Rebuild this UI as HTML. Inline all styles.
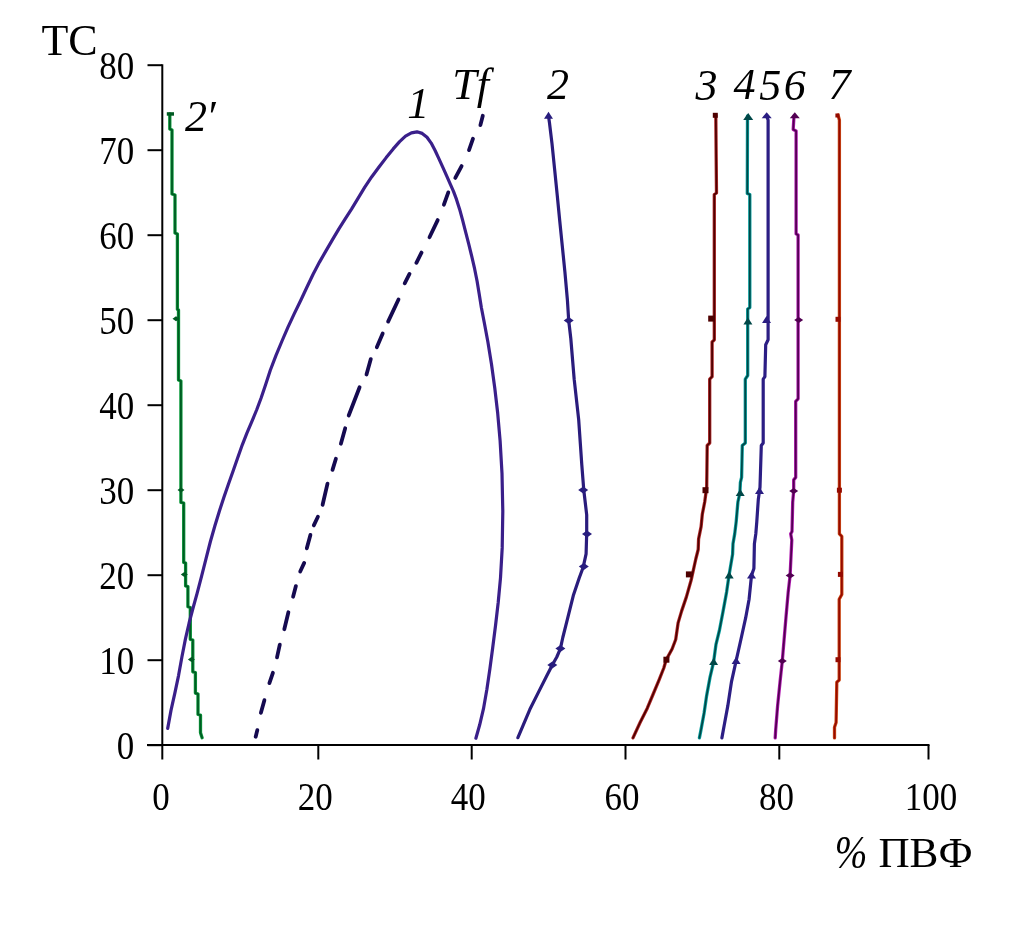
<!DOCTYPE html>
<html><head><meta charset="utf-8"><style>html,body{margin:0;padding:0;background:#fff;width:1013px;height:936px;overflow:hidden}svg{display:block}.f{font-family:"Liberation Serif",serif}</style></head>
<body><svg width="1013" height="936" viewBox="0 0 1013 936">
<rect width="1013" height="936" fill="#fff"/>
<g fill="none" stroke-linejoin="round" stroke-linecap="round">
<polyline points="169.8,114.0 169.8,129.0 172.0,130.0 172.0,194.0 175.0,195.0 175.0,233.0 177.4,234.0 177.4,309.4 178.5,310.0 178.5,380.0 180.9,381.0 180.9,502.4 183.7,503.0 183.7,562.4 185.6,563.0 185.6,585.9 187.9,586.6 187.9,606.7 190.3,607.5 190.3,639.3 192.8,640.0 192.8,671.8 195.4,672.5 195.4,693.1 198.0,694.0 198.0,714.5 200.5,715.0 200.5,732.8 202.1,737.8" stroke="#0c9a3c" stroke-width="3.3"/>
<polyline points="169.8,114.0 169.8,129.0 172.0,130.0 172.0,194.0 175.0,195.0 175.0,233.0 177.4,234.0 177.4,309.4 178.5,310.0 178.5,380.0 180.9,381.0 180.9,502.4 183.7,503.0 183.7,562.4 185.6,563.0 185.6,585.9 187.9,586.6 187.9,606.7 190.3,607.5 190.3,639.3 192.8,640.0 192.8,671.8 195.4,672.5 195.4,693.1 198.0,694.0 198.0,714.5 200.5,715.0 200.5,732.8 202.1,737.8" stroke="#005a22" stroke-width="1.7"/>
<polyline points="167.7,728.4 171.0,710.4 174.9,692.9 178.6,675.3 181.9,657.0 185.4,639.1 189.1,623.0 192.9,608.5 197.1,593.4 201.6,576.2 206.1,558.3 210.4,541.5 214.9,525.7 219.5,510.7 224.0,497.0 228.4,484.2 233.1,471.0 237.8,457.5 242.3,444.8 246.9,433.1 251.8,421.6 256.6,410.0 261.1,398.0 265.5,384.9 270.3,370.3 276.0,355.4 282.0,341.0 288.0,327.1 294.3,313.6 300.8,300.3 307.0,287.0 313.1,274.2 319.5,262.1 326.1,250.6 332.5,239.6 338.9,228.9 345.2,218.9 351.5,209.1 358.0,198.4 364.8,187.1 371.8,176.7 379.0,167.0 386.2,157.6 393.2,148.9 399.6,141.6 405.5,136.1 411.4,132.8 417.0,131.8 422.2,133.4 427.0,137.3 431.2,143.1 435.1,150.5 439.1,159.1 443.2,168.1 447.0,176.7 450.4,184.3 453.5,191.4 456.5,199.4 459.6,209.2 462.6,220.2 465.6,231.9 468.7,243.9 471.7,256.2 474.6,268.7 477.1,281.3 479.2,294.1 481.4,307.7 484.4,323.3 487.9,342.0 491.5,364.2 494.8,388.3 497.7,413.3 500.1,440.7 502.0,473.4 502.8,511.2 502.2,547.9 500.5,577.8 498.2,602.5 495.5,625.7 492.7,647.8 489.9,668.7 486.9,689.3 483.5,708.7 479.7,724.8 475.9,738.2" stroke="#3a1f8a" stroke-width="3.2"/>
<g stroke="#150a50" stroke-width="3.8" stroke-linecap="round">
<line x1="482.8" y1="115.8" x2="480.4" y2="125.1"/>
<line x1="473.0" y1="138.7" x2="469.0" y2="150.1"/>
<line x1="461.6" y1="166.1" x2="455.3" y2="177.9"/>
<line x1="448.3" y1="192.4" x2="443.9" y2="204.7"/>
<line x1="437.7" y1="220.1" x2="429.5" y2="237.2"/>
<line x1="421.5" y1="252.6" x2="416.4" y2="262.8"/>
<line x1="409.5" y1="273.9" x2="404.7" y2="283.3"/>
<line x1="398.5" y1="299.5" x2="388.1" y2="321.6"/>
<line x1="382.7" y1="333.5" x2="376.8" y2="347.2"/>
<line x1="370.8" y1="359.1" x2="366.5" y2="374.5"/>
<line x1="359.6" y1="387.3" x2="348.7" y2="415.5"/>
<line x1="345.2" y1="428.3" x2="340.9" y2="443.7"/>
<line x1="335.9" y1="458.8" x2="332.5" y2="469.9"/>
<line x1="327.5" y1="483.6" x2="322.6" y2="504.8"/>
<line x1="317.9" y1="516.8" x2="313.8" y2="525.4"/>
<line x1="310.4" y1="534.9" x2="306.8" y2="548.3"/>
<line x1="304.2" y1="562.9" x2="300.2" y2="571.5"/>
<line x1="295.9" y1="586.1" x2="293.1" y2="596.7"/>
<line x1="288.4" y1="612.3" x2="284.3" y2="629.2"/>
<line x1="279.8" y1="644.7" x2="277.0" y2="657.3"/>
<line x1="272.9" y1="672.8" x2="269.4" y2="683.1"/>
<line x1="264.4" y1="700.2" x2="260.9" y2="712.8"/>
<line x1="257.3" y1="730.1" x2="255.7" y2="736.7"/>
</g>
<polyline points="548.5,116.0 549.5,123.0 552.0,143.6 554.6,169.2 557.2,194.9 559.7,220.5 562.3,246.2 564.9,271.8 567.4,300.0 568.7,320.5 570.8,338.5 574.2,379.4 578.7,419.9 581.8,464.8 583.8,490.3 586.7,514.9 586.7,533.4 586.1,553.8 583.2,567.2 579.3,577.7 573.3,595.6 567.3,619.6 562.8,637.5 560.4,648.6 556.8,657.0 552.3,665.0 546.4,676.4 538.9,691.4 529.9,709.3 517.9,737.7" stroke="#2a1c7c" stroke-width="3.2"/>
<polyline points="715.8,115.0 716.5,193.0 714.3,194.5 714.3,339.8 712.1,342.0 712.1,376.7 709.7,379.1 709.7,443.0 707.2,445.5 706.7,487.2 704.7,502.0 702.3,514.3 701.1,526.6 698.6,538.8 698.2,549.5 695.8,559.0 691.1,580.3 686.4,596.9 681.6,611.1 678.1,622.9 675.7,639.5 672.1,649.0 666.2,659.7 663.8,668.0 659.1,679.8 653.2,694.0 647.3,708.2 640.1,722.5 633.0,737.9" stroke="#b02a2a" stroke-width="3.3"/>
<polyline points="715.8,115.0 716.5,193.0 714.3,194.5 714.3,339.8 712.1,342.0 712.1,376.7 709.7,379.1 709.7,443.0 707.2,445.5 706.7,487.2 704.7,502.0 702.3,514.3 701.1,526.6 698.6,538.8 698.2,549.5 695.8,559.0 691.1,580.3 686.4,596.9 681.6,611.1 678.1,622.9 675.7,639.5 672.1,649.0 666.2,659.7 663.8,668.0 659.1,679.8 653.2,694.0 647.3,708.2 640.1,722.5 633.0,737.9" stroke="#4e0000" stroke-width="1.7"/>
<polyline points="747.5,116.0 747.3,193.5 749.8,194.5 749.8,307.6 747.7,309.0 747.7,375.5 745.3,379.1 745.3,443.0 742.3,445.5 741.6,477.4 740.4,482.3 739.9,492.9 737.9,502.0 736.2,521.6 734.7,533.9 733.0,543.8 732.6,554.2 730.2,568.4 729.0,575.5 726.6,592.1 723.1,611.1 719.5,630.0 716.0,644.3 713.6,662.0 710.0,677.4 706.5,696.4 704.1,713.0 700.6,731.9 699.4,737.9" stroke="#0aa0a0" stroke-width="3.3"/>
<polyline points="747.5,116.0 747.3,193.5 749.8,194.5 749.8,307.6 747.7,309.0 747.7,375.5 745.3,379.1 745.3,443.0 742.3,445.5 741.6,477.4 740.4,482.3 739.9,492.9 737.9,502.0 736.2,521.6 734.7,533.9 733.0,543.8 732.6,554.2 730.2,568.4 729.0,575.5 726.6,592.1 723.1,611.1 719.5,630.0 716.0,644.3 713.6,662.0 710.0,677.4 706.5,696.4 704.1,713.0 700.6,731.9 699.4,737.9" stroke="#004848" stroke-width="1.7"/>
<polyline points="766.5,116.0 768.1,120.0 768.1,339.8 765.7,344.7 764.9,376.7 763.2,379.1 763.2,443.0 761.3,445.5 760.0,487.2 759.5,490.9 758.3,499.5 756.8,521.6 755.8,533.9 754.4,543.8 753.9,568.4 751.5,575.5 749.1,599.2 745.6,618.2 740.9,639.5 736.1,660.9 731.4,682.2 727.8,705.9 724.3,724.8 721.9,737.9" stroke="#2c1e84" stroke-width="3.2"/>
<polyline points="794.0,116.0 793.2,129.5 796.1,131.0 796.1,233.9 798.1,235.0 798.1,398.8 795.7,401.3 795.7,477.4 793.7,479.9 793.7,490.9 792.7,502.0 792.0,531.5 790.7,533.9 791.8,540.0 790.1,575.5 788.2,592.1 785.9,618.2 783.5,646.6 782.3,660.9 780.0,682.2 777.6,705.9 775.7,729.6 775.2,737.9" stroke="#b01cb0" stroke-width="3.3"/>
<polyline points="794.0,116.0 793.2,129.5 796.1,131.0 796.1,233.9 798.1,235.0 798.1,398.8 795.7,401.3 795.7,477.4 793.7,479.9 793.7,490.9 792.7,502.0 792.0,531.5 790.7,533.9 791.8,540.0 790.1,575.5 788.2,592.1 785.9,618.2 783.5,646.6 782.3,660.9 780.0,682.2 777.6,705.9 775.7,729.6 775.2,737.9" stroke="#520052" stroke-width="1.7"/>
<polyline points="838.0,115.0 839.4,120.0 839.4,533.9 841.8,536.4 841.8,594.5 839.2,599.2 839.2,680.0 836.8,682.2 836.1,722.5 834.5,727.2 834.5,737.9" stroke="#cc4a16" stroke-width="3.3"/>
<polyline points="838.0,115.0 839.4,120.0 839.4,533.9 841.8,536.4 841.8,594.5 839.2,599.2 839.2,680.0 836.8,682.2 836.1,722.5 834.5,727.2 834.5,737.9" stroke="#940a00" stroke-width="1.7"/>
</g>
<g fill="#005a22" stroke="none">
<rect x="166.8" y="112.2" width="7.2" height="3.5"/>
<path d="M172.5 318.8L176.0 316.3L179.5 318.8L176.0 321.3Z"/>
<path d="M177.5 490.1L181.0 487.6L184.5 490.1L181.0 492.6Z"/>
<path d="M180.8 574.5L184.3 572.0L187.8 574.5L184.3 577.0Z"/>
<path d="M187.9 659.4L191.4 656.9L194.9 659.4L191.4 661.9Z"/>
</g>
<g fill="#281d7e">
<path d="M544.0 118.7L553.0 118.7L548.5 111.7Z"/>
<path d="M563.7 320.5L568.7 317.0L573.7 320.5L568.7 324.0Z"/>
<path d="M578.2 490.1L583.2 486.6L588.2 490.1L583.2 493.6Z"/>
<path d="M582.0 533.9L587.0 530.4L592.0 533.9L587.0 537.4Z"/>
<path d="M578.8 566.4L583.8 562.9L588.8 566.4L583.8 569.9Z"/>
<path d="M555.4 648.6L560.4 645.1L565.4 648.6L560.4 652.1Z"/>
<path d="M547.3 665.0L552.3 661.5L557.3 665.0L552.3 668.5Z"/>
</g>
<g fill="#4e0000">
<rect x="712.8" y="112.8" width="5" height="5"/>
<rect x="708.2" y="315.6" width="6" height="6"/>
<rect x="702.5" y="487.2" width="6" height="6"/>
<rect x="685.9" y="571.4" width="6" height="6"/>
<rect x="663.4" y="656.7" width="6" height="6"/>
</g>
<g fill="#004848">
<path d="M743.2 120.0L753.2 120.0L748.2 113.0Z"/>
<path d="M743.4 324.6L752.4 324.6L747.9 317.6Z"/>
<path d="M735.7 496.0L744.7 496.0L740.2 489.0Z"/>
<path d="M724.7 578.6L733.7 578.6L729.2 571.6Z"/>
<path d="M709.1 665.1L718.1 665.1L713.6 658.1Z"/>
</g>
<g fill="#2a1d82">
<path d="M761.7 118.2L771.7 118.2L766.7 112.2Z"/>
<path d="M762.0 323.1L771.0 323.1L766.5 316.1Z"/>
<path d="M755.0 494.0L764.0 494.0L759.5 487.0Z"/>
<path d="M747.0 578.6L756.0 578.6L751.5 571.6Z"/>
<path d="M731.6 664.0L740.6 664.0L736.1 657.0Z"/>
</g>
<g fill="#520052">
<path d="M789.8 118.2L799.8 118.2L794.8 112.2Z"/>
<path d="M794.2 320.0L798.7 317.0L803.2 320.0L798.7 323.0Z"/>
<path d="M789.2 490.9L793.7 487.9L798.2 490.9L793.7 493.9Z"/>
<path d="M785.6 575.5L790.1 572.5L794.6 575.5L790.1 578.5Z"/>
<path d="M777.8 660.9L782.3 657.9L786.8 660.9L782.3 663.9Z"/>
</g>
<g fill="#940a00">
<rect x="835.4" y="113.5" width="4" height="4"/>
<rect x="835.5" y="316.8" width="5" height="5"/>
<rect x="836.9" y="487.7" width="5" height="5"/>
<rect x="837.9" y="571.9" width="5" height="5"/>
<rect x="835.5" y="657.2" width="5" height="5"/>
</g>
<g stroke="#000" stroke-width="2" fill="none" stroke-linecap="butt">
<path d="M162.3 64.2V746"/>
<path d="M147 745H929.5"/>
<path d="M147.5 745.2H162"/>
<path d="M147.5 660.2H162"/>
<path d="M147.5 575.2H162"/>
<path d="M147.5 490.2H162"/>
<path d="M147.5 405.2H162"/>
<path d="M147.5 320.2H162"/>
<path d="M147.5 235.2H162"/>
<path d="M147.5 150.2H162"/>
<path d="M147.5 65.2H162"/>
<path d="M162.3 745V759.5"/>
<path d="M318.3 745V759.5"/>
<path d="M471.7 745V759.5"/>
<path d="M625.5 745V759.5"/>
<path d="M779.3 745V759.5"/>
<path d="M928.5 745V759.5"/>
</g>
<g class="f" font-size="41" fill="#000">
<text x="116.7" y="758.8" textLength="17.5" lengthAdjust="spacingAndGlyphs">0</text>
<text x="99.2" y="673.8" textLength="35.0" lengthAdjust="spacingAndGlyphs">10</text>
<text x="99.2" y="588.8" textLength="35.0" lengthAdjust="spacingAndGlyphs">20</text>
<text x="99.2" y="503.8" textLength="35.0" lengthAdjust="spacingAndGlyphs">30</text>
<text x="99.2" y="418.8" textLength="35.0" lengthAdjust="spacingAndGlyphs">40</text>
<text x="99.2" y="333.8" textLength="35.0" lengthAdjust="spacingAndGlyphs">50</text>
<text x="99.2" y="248.8" textLength="35.0" lengthAdjust="spacingAndGlyphs">60</text>
<text x="99.2" y="163.8" textLength="35.0" lengthAdjust="spacingAndGlyphs">70</text>
<text x="99.2" y="78.8" textLength="35.0" lengthAdjust="spacingAndGlyphs">80</text>
<text x="152.2" y="809.7" textLength="17.5" lengthAdjust="spacingAndGlyphs">0</text>
<text x="297.7" y="809.7" textLength="35.0" lengthAdjust="spacingAndGlyphs">20</text>
<text x="450.8" y="809.7" textLength="35.0" lengthAdjust="spacingAndGlyphs">40</text>
<text x="604.5" y="809.7" textLength="35.0" lengthAdjust="spacingAndGlyphs">60</text>
<text x="758.9" y="809.7" textLength="35.0" lengthAdjust="spacingAndGlyphs">80</text>
<text x="904.8" y="809.7" textLength="52.5" lengthAdjust="spacingAndGlyphs">100</text>
</g>
<text x="41.4" y="55" class="f" font-size="44">TC</text>
<text transform="translate(834.7 868.2) scale(0.85 1)" class="f" font-style="italic" font-size="46">%</text>
<text x="878.4" y="866.6" class="f" font-size="42" textLength="94.2" lengthAdjust="spacingAndGlyphs">ПВФ</text>
<g class="f" font-style="italic" font-size="44" fill="#000">
<text x="185.1" y="130.8">2<tspan dx="-1.2">′</tspan></text>
<text x="407.2" y="117.6">1</text>
<text x="452.3" y="98.9">Tf</text>
<text x="547" y="98.9">2</text>
<text x="695.4" y="100.1">3</text>
<text x="733.6" y="98.9">4</text>
<text x="759.3" y="99.5">5</text>
<text x="783.8" y="99.5">6</text>
<text x="828.4" y="98.9">7</text>
</g>
</svg></body></html>
